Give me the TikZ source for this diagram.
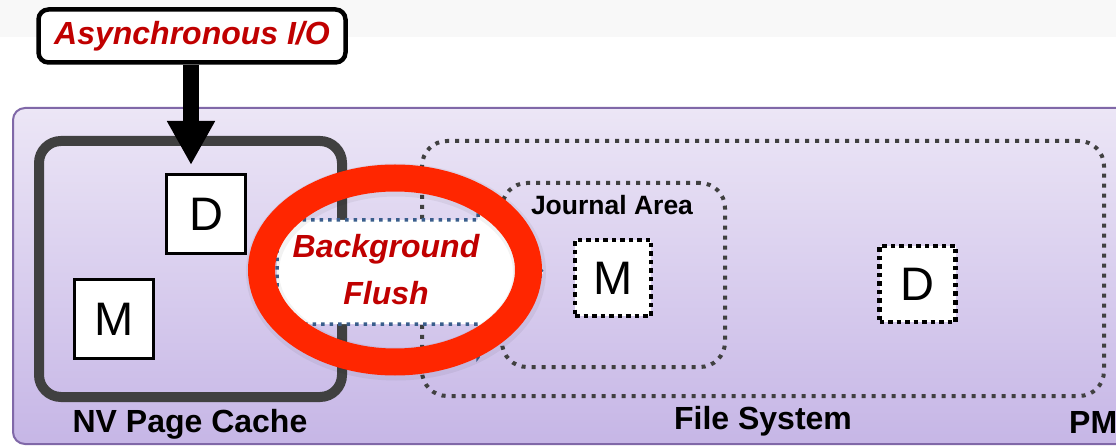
\documentclass[tikz,border=0pt]{standalone}
\usepackage{fontspec}
\setmainfont{Liberation Sans}
\usetikzlibrary{arrows.meta,shapes.geometric}
\definecolor{bgGray}{RGB}{248,248,248}
\definecolor{panelTop}{RGB}{236,230,246}
\definecolor{panelBot}{RGB}{198,182,230}
\definecolor{panelEdge}{RGB}{128,104,168}
\definecolor{cacheGray}{RGB}{64,64,64}
\definecolor{dotGray}{RGB}{64,64,64}
\definecolor{flushBlue}{RGB}{58,94,140}
\definecolor{ringRed}{RGB}{255,38,0}
\definecolor{textRed}{RGB}{192,0,0}
\begin{document}
\begin{tikzpicture}[x=1pt,y=-1pt,
  redlabel/.style={text=textRed,font=\fontsize{32}{47}\selectfont\bfseries\itshape},
  blacklabel/.style={text=black,font=\fontsize{32}{36}\selectfont\bfseries},
  asyncbox/.style={draw=black,fill=white,line width=4.5pt,rounded corners=10pt,
    minimum width=307pt,minimum height=53pt,inner sep=0pt},
  cachebox/.style={draw=cacheGray,line width=10pt,rounded corners=22pt,
    minimum width=303pt,minimum height=256pt,inner sep=0pt},
  membox/.style={draw=black,fill=white,line width=3.5pt,minimum size=79pt,inner sep=0pt,
    font=\fontsize{47}{47}\selectfont},
  memdot/.style={draw=black,fill=white,line width=4.5pt,dash pattern=on 4.5pt off 4pt,
    minimum size=76pt,inner sep=0pt,font=\fontsize{47}{47}\selectfont},
  areadot/.style={draw=dotGray,line width=4pt,dash pattern=on 4pt off 6pt,
    rounded corners=25pt,inner sep=0pt},
  bigarrow/.style={line width=16pt,-{Triangle[width=45pt,length=44pt]}},
  flushshape/.style={draw=flushBlue,fill=white,line width=3.5pt,dash pattern=on 3.5pt off 5pt},
  ring/.style={draw=ringRed,ellipse,line width=27pt,inner sep=0pt}
]
\clip (0,0) rectangle (1116,446);
\fill[white] (0,0) rectangle (1116,446);
\fill[bgGray] (0,0) rectangle (1116,37);
% panel
\draw[panelEdge,line width=2pt,top color=panelTop,bottom color=panelBot,rounded corners=12pt]
  (13,108) rectangle (1150,444);
% NV page cache
\node[cachebox] (cache) at (190.5,269) {};
\node[blacklabel,anchor=base] (cachelbl) at (190,432) {NV Page Cache};
\node[membox] (Dc) at (206,214) {D};
\node[membox] (Mc) at (114,319) {M};
% file system
\node[areadot,minimum width=682pt,minimum height=255pt] (fs) at (763,268.5) {};
\node[areadot,minimum width=223pt,minimum height=184pt] (journal) at (613.5,275) {};
\node[blacklabel,anchor=base,font=\fontsize{26.5}{30}\selectfont\bfseries] (jlbl) at (612,215) {Journal Area};
\node[memdot] (Mj) at (613,278) {M};
\node[memdot] (Dfs) at (917.5,284) {D};
\node[blacklabel,anchor=base] (fslbl) at (763,429) {File System};
\node[blacklabel,anchor=base west,inner sep=0pt] (pmlbl) at (1069,433) {PM};
% async I/O
\node[asyncbox,redlabel] (async) at (192,36) {Asynchronous I/O};
\coordinate (atip) at (191,165);
\draw[bigarrow] (async.south -| atip) -- (atip);
% background flush arrow
\path[flushshape] (277,220) -- (478,220) -- (478,190) -- (543,273) -- (478,357)
  -- (478,324) -- (277,324) -- cycle;
\node[redlabel,align=center] (flush) at (386,270) {Background\\Flush};
% red ring
\draw[black,opacity=0.05,line width=33pt] (396,272) ellipse [x radius=133.5,y radius=92];
\node[ring,minimum width=267pt,minimum height=184pt] (ringnode) at (395,270) {};
\end{tikzpicture}
\end{document}
